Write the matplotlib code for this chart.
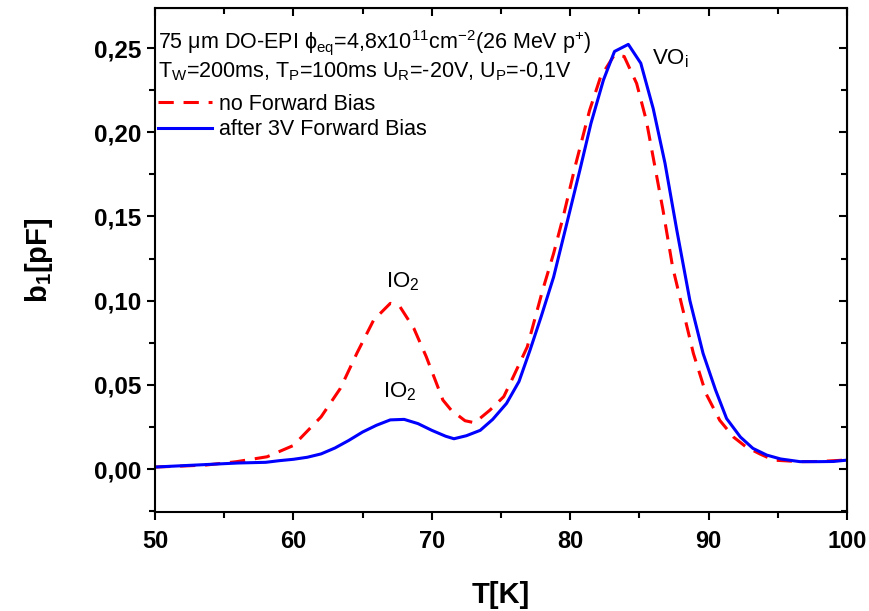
import matplotlib
matplotlib.use("Agg")
import matplotlib.pyplot as plt
from matplotlib.ticker import MultipleLocator, FuncFormatter

plt.rcParams['font.family'] = ['Liberation Sans', 'DejaVu Sans']
plt.rcParams['mathtext.fontset'] = 'custom'
plt.rcParams['mathtext.rm'] = 'Liberation Sans'
plt.rcParams['mathtext.it'] = 'Liberation Sans'
plt.rcParams['mathtext.bf'] = 'Liberation Sans:bold'
plt.rcParams['mathtext.default'] = 'regular'

# Data
T_blue = [50, 52, 54, 56, 58, 59, 60, 61, 62, 63, 64, 65, 66, 67, 68, 69, 70, 71,
          71.6, 72.5, 73.5, 74.4, 75.4, 76.3, 77.1, 77.9, 78.8, 79.7, 80.7, 81.5,
          82.4, 83.2, 84.2, 85.1, 86.0, 86.85, 87.7, 88.65, 89.6, 90.5, 91.3, 92.3,
          93.2, 94.2, 95.2, 96.6, 98, 99, 100]
b1_blue = [0.0012, 0.002, 0.0028, 0.0036, 0.004, 0.005, 0.0058, 0.007, 0.009, 0.0125,
           0.017, 0.022, 0.026, 0.0292, 0.0295, 0.027, 0.023, 0.0195, 0.018, 0.0198,
           0.023, 0.0295, 0.039, 0.052, 0.0707, 0.0905, 0.114, 0.144, 0.1776, 0.2053,
           0.231, 0.248, 0.2522, 0.241, 0.214, 0.1816, 0.142, 0.100, 0.0687, 0.047,
           0.030, 0.019, 0.0123, 0.0083, 0.006, 0.0044, 0.0044, 0.0045, 0.0053]

T_red = [50, 52, 53.7, 55.9, 58.1, 60, 62, 63.4, 64.6, 65.8, 67.0, 67.7, 68.7, 69.6,
         70.8, 71.4, 72.4, 73.1, 74.2, 75.2, 75.9, 76.9, 78.0, 78.8, 79.5, 80.35,
         81.4, 82.2, 83.2, 83.9, 84.8, 85.5, 86.7, 87.4, 88.9, 89.8, 90.8, 91.8,
         92.7, 93.7, 94.7, 96.6, 98, 100]
b1_red = [0.0012, 0.0018, 0.0024, 0.0044, 0.0073, 0.014, 0.031, 0.048, 0.069, 0.0885,
          0.0984, 0.0964, 0.0836, 0.0667, 0.041, 0.035, 0.0287, 0.0275, 0.035, 0.043,
          0.055, 0.0726, 0.106, 0.128, 0.150, 0.1795, 0.213, 0.233, 0.246, 0.245,
          0.229, 0.207, 0.154, 0.120, 0.0687, 0.045, 0.029, 0.019, 0.0132, 0.009,
          0.0053, 0.0044, 0.0045, 0.0054]

fig = plt.figure(figsize=(8.7, 6.11), dpi=100)
ax = fig.add_axes([155/870, 1 - 512/611, (847-155)/870, (512-8)/611])

ax.plot(T_red, b1_red, color='#ff0000', lw=2.2, ls=(0, (5, 3.2)), label='no Forward Bias')
ax.plot(T_blue, b1_blue, color='#0000ff', lw=2.2, label='after 3V Forward Bias')

ax.set_xlim(50, 100)
ax.set_ylim(-0.0255, 0.2738)
ax.xaxis.set_major_locator(MultipleLocator(10))
ax.xaxis.set_minor_locator(MultipleLocator(5))
ax.yaxis.set_major_locator(MultipleLocator(0.05))
ax.yaxis.set_minor_locator(MultipleLocator(0.025))
ax.yaxis.set_major_formatter(FuncFormatter(lambda v, p: f"{v:.2f}".replace('.', ',')))
ax.xaxis.set_major_formatter(FuncFormatter(lambda v, p: f"{v:.0f}"))

for s in ax.spines.values():
    s.set_linewidth(1.5)
ax.tick_params(which='both', bottom=True, left=True, top=False, right=False,
               direction='out', width=1.5)
ax.tick_params(which='major', length=6)
ax.tick_params(which='minor', length=4)
ax.tick_params(axis='x', which='major', labelsize=17, pad=7)
ax.tick_params(axis='y', which='major', labelsize=17.5, pad=4)
for lab in ax.get_xticklabels() + ax.get_yticklabels():
    lab.set_fontweight('bold')

ax2 = ax.secondary_xaxis('top')
ax2.xaxis.set_major_locator(MultipleLocator(10))
ax2.xaxis.set_minor_locator(MultipleLocator(5))
ax2.tick_params(which='both', direction='in', width=1.5, labeltop=False)
ax2.tick_params(which='major', length=6)
ax2.tick_params(which='minor', length=4)
ax3 = ax.secondary_yaxis('right')
ax3.yaxis.set_major_locator(MultipleLocator(0.05))
ax3.yaxis.set_minor_locator(MultipleLocator(0.025))
ax3.tick_params(which='both', direction='in', width=1.5, labelright=False)
ax3.tick_params(which='major', length=6)
ax3.tick_params(which='minor', length=4)

ax.set_xlabel('T[K]', fontsize=21, fontweight='bold', labelpad=20)
ax.set_ylabel(r'b$_\mathbf{1}$[pF]', fontsize=21, fontweight='bold', labelpad=28)

ax.text(0.005, 0.9325, r"75 $\mu$m DO-EPI $\phi_{eq}$=4,8x10$^{11}$cm$^{-2}$(26 MeV p$^{+}$)",
        transform=ax.transAxes, fontsize=15.5, ha='left', va='center')
ax.text(0.005, 0.873, r"T$_W$=200ms, T$_P$=100ms U$_R$=-20V, U$_P$=-0,1V",
        transform=ax.transAxes, fontsize=15.5, ha='left', va='center')
ax.legend(loc='upper left', bbox_to_anchor=(0.005, 0.83), frameon=False,
          fontsize=15.5, handlelength=2.5, handletextpad=0.3, labelspacing=0.22,
          borderaxespad=0.0, borderpad=0.0)

ax.text(66.7, 0.1045, r"IO$_2$", fontsize=16, ha='left', va='bottom')
ax.text(66.5, 0.0395, r"IO$_2$", fontsize=16, ha='left', va='bottom')
ax.text(85.9, 0.2435, r"VO$_i$", fontsize=16, ha='left', va='center')

fig.savefig('out.png', dpi=100)
